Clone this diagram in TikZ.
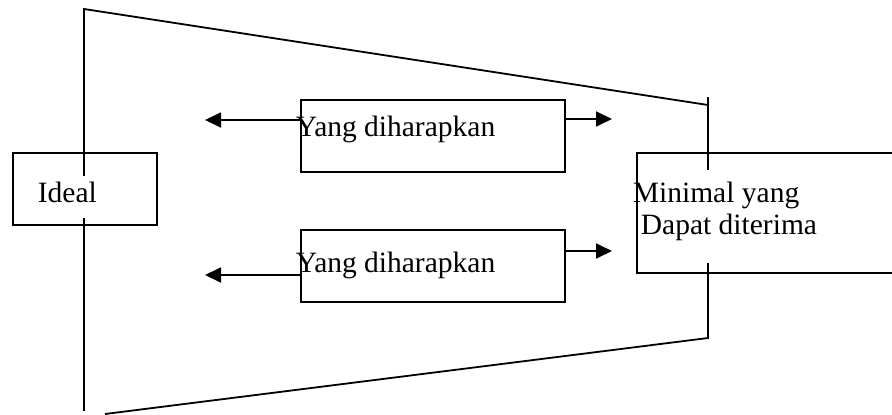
\documentclass[tikz,border=0pt]{standalone}
\usepackage{fontspec}
\setmainfont{Liberation Serif}
\usetikzlibrary{arrows.meta}
\begin{document}
\begin{tikzpicture}[x=1pt,y=-1pt,line width=1.8pt,
  box/.style={draw,rectangle,inner sep=0pt,anchor=north west},
  label/.style={inner sep=0pt,anchor=base west,font=\fontsize{29.5}{35}\selectfont},
  arr/.style={-{Triangle[length=16pt,width=15pt]}}]
\clip (0,0) rectangle (892,415);

% boxes
\node[box,minimum width=144pt,minimum height=72pt] (ideal) at (12,152) {};
\node[box,minimum width=264pt,minimum height=72pt] (up) at (300,99) {};
\node[box,minimum width=264pt,minimum height=72pt] (low) at (300,229) {};
\node[box,minimum width=270pt,minimum height=120pt] (mini) at (636,152) {};

% texts
\node[label] (tideal) at (37,202) {Ideal};
\node[label] (tup) at (295,136) {Yang diharapkan};
\node[label] (tlow) at (295,272) {Yang diharapkan};
\node[label] (tmin1) at (632,202) {Minimal yang};
\node[label] (tmin2) at (640,234) {Dapat diterima};

% outline of the funnel
\coordinate (lt) at (84,9);
\coordinate (la) at (84,175);
\coordinate (lb) at (84,218);
\coordinate (lz) at (84,411);
\coordinate (rt) at (708,105);
\coordinate (rtop) at (708,97);
\coordinate (ra) at (708,170);
\coordinate (rb) at (708,263);
\coordinate (rz) at (708,338);
\coordinate (bl) at (105,414);
\draw[line cap=rect] (la) -- (lt) -- (rt);
\draw (rtop) -- (ra);
\draw (lb) -- (lz);
\draw (bl) -- (rz) -- (rb);

% arrows
\coordinate (ulT) at (205,120);
\coordinate (urT) at (612,119);
\coordinate (llT) at (205,275);
\coordinate (lrT) at (612,251);
\draw[arr] (up.west |- ulT) -- (ulT);
\draw[arr] (up.east |- urT) -- (urT);
\draw[arr] (low.west |- llT) -- (llT);
\draw[arr] (low.east |- lrT) -- (lrT);
\end{tikzpicture}
\end{document}
